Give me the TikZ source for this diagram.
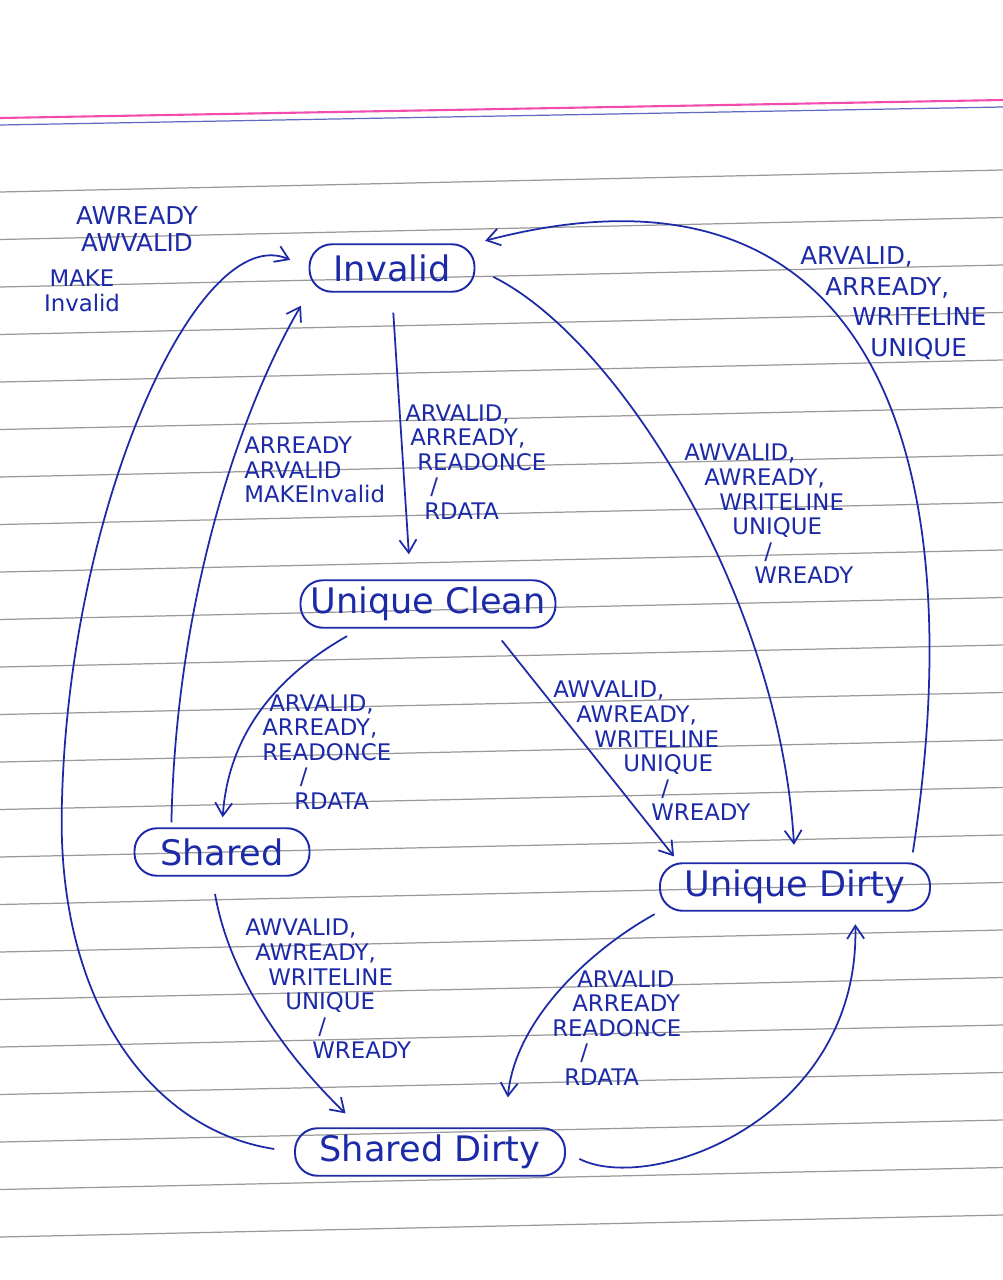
\documentclass[tikz,border=0pt]{standalone}
\usepackage{fontspec}
\setmainfont{DejaVu Sans}
\usetikzlibrary{arrows.meta}
\definecolor{ink}{RGB}{28,42,168}

\begin{document}
\begin{tikzpicture}[x=0.2mm,y=-0.2mm,
    state/.style={draw=ink,line width=1.1pt,rounded corners=4.5mm,minimum height=9.5mm,inner xsep=2mm,text=ink,font=\fontsize{20}{22}\selectfont},
    lbl/.style={text=ink,align=left,anchor=west,inner sep=0pt,font=\fontsize{13}{14}\selectfont},
    arr/.style={draw=ink,line width=1pt,-{Straight Barb[length=2.6mm,width=3.4mm]}},
    rule/.style={black!40,line width=0.7pt}]
  \path[use as bounding box,fill=white] (0,0) rectangle (1003,1280);
  \foreach \i in {0,...,22}
    \draw[rule] (0,{192+47.5*\i}) -- (1003,{170+47.5*\i});
  \draw[magenta!70,line width=1.2pt] (0,118) -- (1003,100);
  \draw[ink!70,line width=0.7pt] (0,125) -- (1003,107);

  \node[state,minimum width=33mm] (inv) at (392,268) {Invalid};
  \node[state,minimum width=51mm] (uc) at (428,604) {Unique Clean};
  \node[state,minimum width=35mm] (sh) at (222,852) {Shared};
  \node[state,minimum width=54mm] (ud) at (795,887) {Unique Dirty};
  \node[state,minimum width=54mm] (sd) at (430,1152) {Shared Dirty};

  \draw[arr,shorten <=4mm,shorten >=5mm] (inv.south) -- ([xshift=-3.5mm]uc.north);
  \draw[arr,shorten <=3mm,shorten >=2mm] (uc.200) .. controls (270,680) and (228,740) .. (sh.north);
  \draw[arr,shorten <=1mm,shorten >=3mm] (sh.154) .. controls (176,600) and (240,410) .. (inv.south west);
  \draw[arr,shorten <=3mm,shorten >=1.5mm] (uc.-21) -- (ud.168);
  \draw[arr,shorten <=4mm,shorten >=3.5mm] (inv.east) .. controls (620,340) and (780,600) .. (ud.north);
  \draw[arr,shorten <=2mm,shorten >=2mm] (ud.12) .. controls (975,450) and (870,140) .. (inv.north east);
  \draw[arr,shorten <=3.5mm,shorten >=4mm] ([xshift=-2mm]sh.south) .. controls (230,980) and (290,1060) .. ([xshift=-14mm]sd.north);
  \draw[arr,shorten <=1mm,shorten >=6mm] (ud.south west) .. controls (590,950) and (515,1020) .. ([xshift=15mm]sd.north);
  \draw[arr,shorten <=3mm,shorten >=2.5mm] (sd.east) .. controls (650,1195) and (860,1120) .. ([xshift=12mm]ud.south);
  \draw[arr,shorten <=4mm,shorten >=4mm] (sd.west) .. controls (150,1130) and (55,1000) .. (62,800) .. controls (70,500) and (200,220) .. (inv.west);

  \node[lbl,align=center,anchor=center,font=\fontsize{14}{15}\selectfont] (lblMkA) at (137,229) {AWREADY\\AWVALID};
  \node[lbl,align=center,anchor=center,font=\fontsize{13}{14.5}\selectfont] (lblMkB) at (82,291) {MAKE\\Invalid};
  \node[lbl,font=\fontsize{14}{17.5}\selectfont] (lblUdInv) at (800,303) {ARVALID,\\\hspace*{5mm}ARREADY,\\\hspace*{10.4mm}WRITELINE\\\hspace*{14mm}UNIQUE};
  \node[lbl] (lblInvUc) at (405,462) {ARVALID,\\\hspace*{1mm}ARREADY,\\\hspace*{2.4mm}READONCE\\\hspace*{5mm}/\\\hspace*{3.8mm}RDATA};
  \node[lbl] (lblShInv) at (244,470) {ARREADY\\ARVALID\\MAKEInvalid};
  \node[lbl] (lblInvUd) at (684,514) {AWVALID,\\\hspace*{4mm}AWREADY,\\\hspace*{7mm}WRITELINE\\\hspace*{9.6mm}UNIQUE\\\hspace*{16mm}/\\\hspace*{14mm}WREADY};
  \node[lbl] (lblUcSh) at (262,752) {\hspace*{1.4mm}ARVALID,\\ARREADY,\\READONCE\\\hspace*{7.5mm}/\\\hspace*{6.4mm}RDATA};
  \node[lbl] (lblUcUd) at (553,751) {AWVALID,\\\hspace*{4.6mm}AWREADY,\\\hspace*{8.2mm}WRITELINE\\\hspace*{14mm}UNIQUE\\\hspace*{21.6mm}/\\\hspace*{19.6mm}WREADY};
  \node[lbl] (lblShSd) at (245,989) {AWVALID,\\\hspace*{2mm}AWREADY,\\\hspace*{4.6mm}WRITELINE\\\hspace*{8mm}UNIQUE\\\hspace*{14.6mm}/\\\hspace*{13.4mm}WREADY};
  \node[lbl] (lblUdSd) at (552,1028) {\hspace*{5mm}ARVALID\\\hspace*{4mm}ARREADY\\READONCE\\\hspace*{5.6mm}/\\\hspace*{2.4mm}RDATA};
\end{tikzpicture}
\end{document}
